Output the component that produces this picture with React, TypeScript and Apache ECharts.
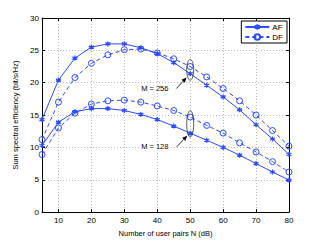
import React, { useEffect, useRef } from 'react';
import * as echarts from 'echarts';

const userPairs = [5, 10, 15, 20, 25, 30, 35, 40, 45, 50, 55, 60, 65, 70, 75, 80];
const af256 = [14.3, 20.4, 23.8, 25.5, 26.0, 26.0, 25.4, 24.5, 23.1, 21.4, 19.6, 17.8, 15.8, 13.5, 11.3, 8.9];
const df256 = [11.2, 17.0, 20.8, 23.0, 24.3, 25.1, 25.2, 24.6, 23.7, 22.5, 20.9, 19.1, 17.2, 15.0, 12.6, 10.2];
const af128 = [10.3, 13.9, 15.5, 16.0, 16.0, 15.7, 15.1, 14.3, 13.3, 12.2, 11.1, 10.0, 8.8, 7.5, 6.2, 4.95];
const df128 = [8.9, 13.0, 15.3, 16.7, 17.2, 17.3, 17.0, 16.4, 15.7, 14.7, 13.4, 12.2, 10.7, 9.3, 7.8, 6.2];
const xTicks = [10, 20, 30, 40, 50, 60, 70, 80];
const legendNames = ['AF', 'DF'];
const annotations = [
  { label: 'M = 256', textAt: [43.4, 19.1], tail: [45.8, 19.1], head: [48.9, 20.8], ellipse: [50, 20.4, 23.6] },
  { label: 'M = 128', textAt: [43.4, 10.1], tail: [45.9, 10.1], head: [49.1, 11.8], ellipse: [50, 11.6, 15.7] },
];

const BLUE = '#2f4dff';
const FONT = 'Liberation Sans, Arial, sans-serif';
const STAR = 'path://M0,-5L0,5M-4.33,-2.5L4.33,2.5M-4.33,2.5L4.33,-2.5';
const CIRCLE = 'path://M5,0A5,5,0,1,1,-5,0A5,5,0,1,1,5,0Z';

function makeSeries(name: string, data: number[], dashed: boolean) {
  return {
    name,
    type: 'line',
    data: userPairs.map((x, i) => [x, data[i]]),
    symbol: dashed ? CIRCLE : STAR,
    symbolSize: dashed ? 6 : 5,
    showSymbol: true,
    showAllSymbol: true,
    lineStyle: { color: BLUE, width: 1, type: dashed ? [4, 3] : 'solid' },
    itemStyle: dashed
      ? { color: 'rgba(255,255,255,0)', borderColor: BLUE, borderWidth: 1, borderType: 'solid', opacity: 1 }
      : { color: BLUE, borderColor: BLUE, borderWidth: 1.3, borderType: 'solid', opacity: 1 },
    z: 3,
  };
}

export default function App() {
  const ref = useRef<HTMLDivElement>(null);
  useEffect(() => {
    document.body.style.margin = '0';
    const chart = echarts.init(ref.current!, null, { renderer: 'svg' });
    const axisCommon = {
      axisLine: { show: true, onZero: false, lineStyle: { color: '#000', width: 1 } },
      axisTick: { show: true, inside: true, length: 3, lineStyle: { color: '#000' } },
    };
    const option: any = {
      animation: false,
      backgroundColor: '#fff',
      grid: { left: 42, right: 32, top: 18, bottom: 28 },
      legend: {
        data: legendNames,
        orient: 'vertical',
        right: 34,
        top: 21,
        backgroundColor: '#fff',
        borderColor: '#000',
        borderWidth: 1,
        borderRadius: 0,
        padding: [2, 4, 2, 3],
        itemWidth: 24,
        itemHeight: 7,
        itemGap: 2,
        textStyle: { fontSize: 8, fontFamily: FONT, color: '#000', padding: [0, 0, 0, -2] },
      },
      xAxis: [
        {
          type: 'value',
          min: 5,
          max: 80,
          name: 'Number of user pairs N (dB)',
          nameLocation: 'middle',
          nameGap: 13,
          nameTextStyle: { fontSize: 7.5, fontFamily: FONT, color: '#000' },
          ...axisCommon,
          axisTick: { ...axisCommon.axisTick, customValues: xTicks },
          axisLabel: { customValues: xTicks, fontSize: 8, fontFamily: FONT, color: '#000', margin: 4 },
          splitLine: { show: true, lineStyle: { color: '#bbb', type: [1, 2], width: 1 } },
        },
        {
          type: 'value',
          min: 5,
          max: 80,
          position: 'top',
          ...axisCommon,
          axisTick: { ...axisCommon.axisTick, customValues: xTicks },
          axisLabel: { show: false },
          splitLine: { show: false },
        },
      ],
      yAxis: [
        {
          type: 'value',
          min: 0,
          max: 30,
          interval: 5,
          name: 'Sum spectral efficiency (bit/s/Hz)',
          nameLocation: 'middle',
          nameGap: 17,
          nameTextStyle: { fontSize: 7.5, fontFamily: FONT, color: '#000' },
          ...axisCommon,
          axisLabel: { fontSize: 8, fontFamily: FONT, color: '#000', margin: 3 },
          splitLine: { show: true, lineStyle: { color: '#bbb', type: [1, 2], width: 1 } },
        },
        {
          type: 'value',
          min: 0,
          max: 30,
          interval: 5,
          position: 'right',
          ...axisCommon,
          axisLabel: { show: false },
          splitLine: { show: false },
        },
      ],
      series: [
        makeSeries('AF', af256, false),
        makeSeries('DF', df256, true),
        makeSeries('AF', af128, false),
        makeSeries('DF', df128, true),
      ],
    };
    chart.setOption(option);

    const px = (p: number[]) => chart.convertToPixel({ gridIndex: 0 }, p) as number[];
    const graphics: any[] = [];
    annotations.forEach((a) => {
      const [ex, ey1, ey2] = a.ellipse;
      const p1 = px([ex, ey1]);
      const p2 = px([ex, ey2]);
      graphics.push({
        type: 'ellipse',
        shape: { cx: p1[0], cy: (p1[1] + p2[1]) / 2, rx: 3.5, ry: Math.abs(p1[1] - p2[1]) / 2 },
        style: { fill: 'none', stroke: '#333', lineWidth: 0.8 },
        z: 10,
      });
      const t = px(a.tail);
      const h = px(a.head);
      const dx = h[0] - t[0];
      const dy = h[1] - t[1];
      const len = Math.sqrt(dx * dx + dy * dy);
      const ux = dx / len;
      const uy = dy / len;
      const bx = h[0] - ux * 5;
      const by = h[1] - uy * 5;
      graphics.push({
        type: 'line',
        shape: { x1: t[0], y1: t[1], x2: bx, y2: by },
        style: { stroke: '#000', lineWidth: 0.8 },
        z: 10,
      });
      graphics.push({
        type: 'polygon',
        shape: { points: [[h[0], h[1]], [bx - uy * 2.2, by + ux * 2.2], [bx + uy * 2.2, by - ux * 2.2]] },
        style: { fill: '#000' },
        z: 10,
      });
      const tp = px(a.textAt);
      graphics.push({
        type: 'text',
        x: tp[0],
        y: tp[1],
        style: { text: a.label, fontSize: 7.5, fontFamily: FONT, fill: '#000', align: 'right', verticalAlign: 'middle', backgroundColor: '#fff' },
        z: 10,
      });
    });
    chart.setOption({ graphic: graphics });
    return () => chart.dispose();
  }, []);
  return <div ref={ref} style={{ width: 321, height: 242 }} />;
}
